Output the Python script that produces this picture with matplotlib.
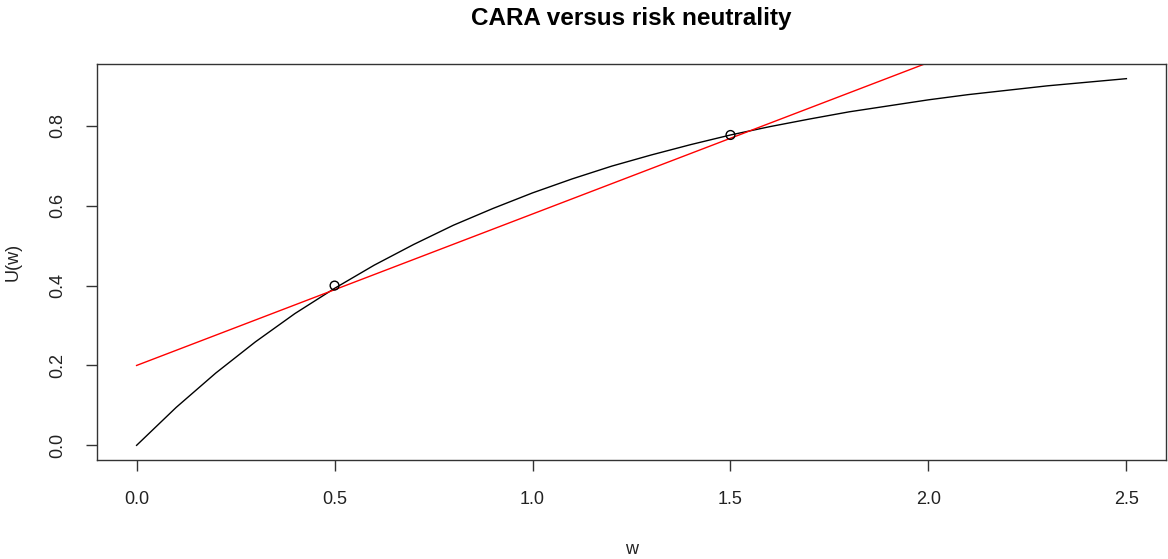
import numpy as np
import matplotlib.pyplot as plt

plt.rcParams['font.family'] = ['Liberation Sans', 'DejaVu Sans']

# CARA utility curve at steps of 0.1
w = [0.0, 0.1, 0.2, 0.3, 0.4, 0.5, 0.6, 0.7, 0.8, 0.9, 1.0, 1.1, 1.2,
     1.3, 1.4, 1.5, 1.6, 1.7, 1.8, 1.9, 2.0, 2.1, 2.2, 2.3, 2.4, 2.5]
u = [0.000, 0.095, 0.181, 0.259, 0.330, 0.393, 0.451, 0.503, 0.551, 0.593,
     0.632, 0.667, 0.699, 0.727, 0.753, 0.777, 0.798, 0.817, 0.835, 0.850,
     0.865, 0.878, 0.889, 0.900, 0.909, 0.918]

# risk-neutral line (clipped at the top of the plot)
line_w = [0.0, 2.5]
line_u = [0.200, 1.148]

# the two marked points
pts_w = [0.5, 1.5]
pts_u = [0.400, 0.777]

fig = plt.figure(figsize=(11.68, 5.59), dpi=100)
ax = fig.add_axes([97 / 1168, 1 - 460 / 559, (1166 - 97) / 1168, (460 - 64) / 559])

ax.plot(w, u, color='black', lw=1)
ax.plot(line_w, line_u, color='red', lw=1)
ax.scatter(pts_w, pts_u, s=40, facecolors='none', edgecolors='black', linewidths=1, zorder=3)

ax.set_xlim(-0.1, 2.6)
ax.set_ylim(-0.0367, 0.9547)
ax.set_xticks([0.0, 0.5, 1.0, 1.5, 2.0, 2.5])
ax.set_yticks([0.0, 0.2, 0.4, 0.6, 0.8])
ax.set_xticklabels(['0.0', '0.5', '1.0', '1.5', '2.0', '2.5'])
ax.set_yticklabels(['0.0', '0.2', '0.4', '0.6', '0.8'], rotation=90, va='center')
ax.tick_params(direction='out', length=8, width=1, labelsize=13, pad=14, colors='#333333', labelcolor='#222222')
for s in ax.spines.values():
    s.set_color('#333333')
    s.set_linewidth(1)

ax.set_xlabel('w', fontsize=13, labelpad=24, color='#222222')
ax.set_ylabel('U(w)', fontsize=13, labelpad=20, color='#222222')
fig.text(0.5 * (97 + 1166) / 1168, 1 - 18 / 559, 'CARA versus risk neutrality',
         ha='center', va='center', fontsize=17.5, fontweight='bold')

fig.savefig('out.png', dpi=100)
